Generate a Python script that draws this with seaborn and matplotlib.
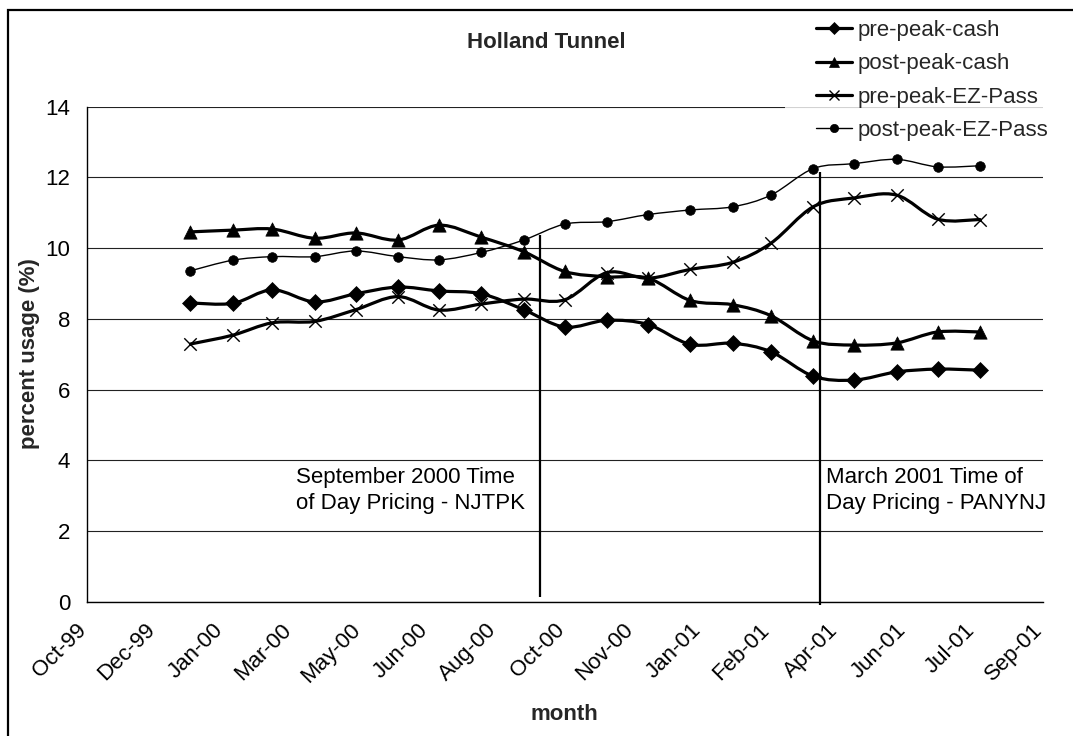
import numpy as np
import pandas as pd
import matplotlib
matplotlib.use("Agg")
import matplotlib.pyplot as plt
import matplotlib.dates as mdates
import matplotlib.transforms as mtransforms
import seaborn as sns
from matplotlib.path import Path
from matplotlib.patches import PathPatch, Rectangle
from matplotlib.lines import Line2D

# ---------------- data ----------------
months = ["2000-01-01", "2000-02-01", "2000-03-01", "2000-04-01", "2000-05-01",
          "2000-06-01", "2000-07-01", "2000-08-01", "2000-09-01", "2000-10-01",
          "2000-11-01", "2000-12-01", "2001-01-01", "2001-02-01", "2001-03-01",
          "2001-04-01", "2001-05-01", "2001-06-01", "2001-07-01", "2001-08-01"]

pre_peak_cash = [8.45, 8.44, 8.82, 8.48, 8.71, 8.90, 8.79, 8.71, 8.26, 7.77,
                 7.96, 7.84, 7.28, 7.31, 7.07, 6.38, 6.27, 6.50, 6.58, 6.55]
post_peak_cash = [10.46, 10.51, 10.54, 10.28, 10.43, 10.23, 10.65, 10.31, 9.90, 9.34,
                  9.19, 9.15, 8.52, 8.40, 8.09, 7.38, 7.26, 7.32, 7.63, 7.63]
pre_peak_ez = [7.29, 7.54, 7.89, 7.93, 8.26, 8.63, 8.25, 8.42, 8.56, 8.54,
               9.31, 9.15, 9.40, 9.60, 10.14, 11.17, 11.42, 11.50, 10.82, 10.81]
post_peak_ez = [9.36, 9.66, 9.76, 9.76, 9.92, 9.76, 9.67, 9.88, 10.23, 10.68,
                10.75, 10.95, 11.08, 11.17, 11.50, 12.25, 12.39, 12.51, 12.30, 12.33]

series_names = ["pre-peak-cash", "post-peak-cash", "pre-peak-EZ-Pass", "post-peak-EZ-Pass"]

tick_labels = ["Oct-99", "Dec-99", "Jan-00", "Mar-00", "May-00", "Jun-00", "Aug-00",
               "Oct-00", "Nov-00", "Jan-01", "Feb-01", "Apr-01", "Jun-01", "Jul-01", "Sep-01"]
axis_start = "1999-10-17"
tick_step_days = 50

y_ticks = [0, 2, 4, 6, 8, 10, 12, 14]

event_lines = [("2000-09-13", 0.14, 10.37), ("2001-04-06", -0.09, 12.16)]
event_texts = [("2000-03-18", 3.14, "September 2000 Time\nof Day Pricing - NJTPK"),
               ("2001-04-10", 3.14, "March 2001 Time of\nDay Pricing - PANYNJ")]

# ---------------- build frame ----------------
xnum = mdates.date2num(pd.to_datetime(months))
values = [pre_peak_cash, post_peak_cash, pre_peak_ez, post_peak_ez]
df = pd.concat([pd.DataFrame({"x": xnum, "value": v, "series": n})
                for n, v in zip(series_names, values)], ignore_index=True)

styles = {
    "pre-peak-cash":     dict(marker="D", s=66, lw=2.3, mlw=0.5, ms=7.5),
    "post-peak-cash":    dict(marker="^", s=92, lw=2.3, mlw=0.5, ms=9.0),
    "pre-peak-EZ-Pass":  dict(marker="x", s=80, lw=2.3, mlw=1.0, ms=8.5),
    "post-peak-EZ-Pass": dict(marker="o", s=48, lw=1.0, mlw=0.5, ms=7.0),
}

# ---------------- style ----------------
sns.set_theme(style="white")
plt.rcParams["font.family"] = ["Liberation Sans", "DejaVu Sans"]
plt.rcParams["font.size"] = 16

W, H = 1073, 736
fig = plt.figure(figsize=(W / 100, H / 100), dpi=100)
fig.patch.set_facecolor("white")
L, R, T, B = 86.7, 1042.7, 106.7, 601.8
ax = fig.add_axes([L / W, 1 - B / H, (R - L) / W, (B - T) / H])
ax.set_facecolor("white")


def smooth_path(x, y):
    pts = np.column_stack([x, y])
    n = len(pts)
    verts = [pts[0]]
    codes = [Path.MOVETO]
    for i in range(n - 1):
        p0 = pts[i - 1] if i > 0 else pts[i]
        p1 = pts[i]
        p2 = pts[i + 1]
        p3 = pts[i + 2] if i + 2 < n else pts[i + 1]
        c1 = p1 + (p2 - p0) / 6.0
        c2 = p2 - (p3 - p1) / 6.0
        verts += [c1, c2, p2]
        codes += [Path.CURVE4] * 3
    return Path(np.array(verts), codes)


handles = []
for name in series_names:
    st = styles[name]
    sub = df[df["series"] == name]
    patch = PathPatch(smooth_path(sub["x"].values, sub["value"].values),
                      fill=False, edgecolor="black", lw=st["lw"], zorder=3,
                      joinstyle="round", capstyle="round")
    ax.add_patch(patch)
    if st["marker"] == "x":
        sns.scatterplot(data=sub, x="x", y="value", marker="x", s=st["s"],
                        color="black", linewidth=st["mlw"], ax=ax, zorder=4, legend=False)
    else:
        sns.scatterplot(data=sub, x="x", y="value", marker=st["marker"], s=st["s"],
                        color="black", edgecolor="black", linewidth=st["mlw"],
                        ax=ax, zorder=4, legend=False)
    handles.append(Line2D([], [], color="black", lw=st["lw"], marker=st["marker"],
                          ms=st["ms"] * 0.85, mew=st["mlw"], mfc="black", mec="black"))

# event lines and annotations
for d, y0, y1 in event_lines:
    ax.vlines(mdates.date2num(pd.Timestamp(d)), y0, y1, color="black", lw=1.6,
              zorder=3.5, clip_on=False)
for d, y, txt in event_texts:
    ax.text(mdates.date2num(pd.Timestamp(d)), y, txt, ha="left", va="center",
            fontsize=16, linespacing=1.33, color="black", zorder=3)

# axes
x0 = mdates.date2num(pd.Timestamp(axis_start))
x_ticks = [x0 + tick_step_days * k for k in range(len(tick_labels))]
ax.set_xlim(x_ticks[0], x_ticks[-1])
ax.set_ylim(0, 14)
ax.set_xticks(x_ticks)
ax.set_xticklabels(tick_labels)
ax.set_yticks(y_ticks)
ax.set_yticklabels([str(v) for v in y_ticks])
ax.set_axisbelow(True)
ax.yaxis.grid(True, color="#222222", lw=0.8)
ax.xaxis.grid(False)
for side in ["top", "right"]:
    ax.spines[side].set_visible(False)
for side in ["left", "bottom"]:
    ax.spines[side].set_color("black")
    ax.spines[side].set_linewidth(1.0)
ax.tick_params(axis="both", direction="out", length=5, width=0.8, color="black",
               labelsize=16, labelcolor="black")
ax.tick_params(axis="y", pad=7)
ax.tick_params(axis="x", pad=13)
shift = mtransforms.ScaledTranslation(-3 / 100, 0, fig.dpi_scale_trans)
for lab in ax.get_xticklabels():
    lab.set_rotation(45)
    lab.set_ha("right")
    lab.set_va("center")
    lab.set_rotation_mode("anchor")
    lab.set_transform(lab.get_transform() + shift)
ax.set_xlabel("")
ax.set_ylabel("")

# titles / labels
fig.text(546 / W, 1 - 43 / H, "Holland Tunnel", ha="center", va="center",
         fontsize=16, fontweight="bold")
fig.text(564.7 / W, 1 - 715 / H, "month", ha="center", va="center",
         fontsize=16, fontweight="bold")
fig.text(30 / W, 1 - 354 / H, "percent usage (%)", ha="center", va="center",
         rotation=90, fontsize=16, fontweight="bold")

# legend
leg = ax.legend(handles, series_names, loc="upper left",
                bbox_to_anchor=(785 / W, 1 + 11 / H), bbox_transform=fig.transFigure,
                borderaxespad=0, borderpad=1.4, handlelength=1.6, handletextpad=0.25,
                labelspacing=0.55, fontsize=16, frameon=True, fancybox=False)
leg.get_frame().set_facecolor("white")
leg.get_frame().set_edgecolor("none")
leg.set_zorder(2)

# chart border (left and top visible)
fig.patches.append(Rectangle((8 / W, -0.2), 1.5, 1 - 10 / H + 0.2,
                             transform=fig.transFigure, fill=False,
                             edgecolor="black", lw=1.6, zorder=10))

fig.savefig("out.png", dpi=100, facecolor="white")
